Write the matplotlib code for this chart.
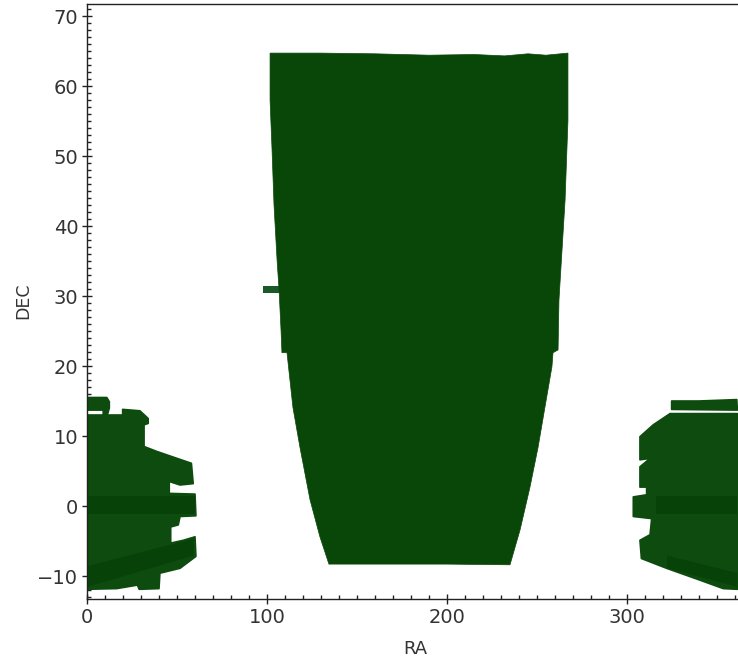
import matplotlib
matplotlib.use("Agg")
import matplotlib.pyplot as plt
from matplotlib.ticker import MultipleLocator

W, H = 738, 659
X_LABEL = "RA"
Y_LABEL = "DEC"
X_TICKS = [0, 100, 200, 300]
Y_TICKS = [-10, 0, 10, 20, 30, 40, 50, 60, 70]

# Footprint outlines (RA, DEC in degrees)
north_ra = [101.7, 130, 160, 190, 215, 232, 245, 255, 267.2, 267.2, 265.6, 262.2, 261.7, 258.9, 258.3,
            254.4, 250.6, 246.1, 240.6, 235.0, 200, 170, 134.4, 129.4, 123.9, 118.3, 114.4, 111.1,
            108.3, 107.8, 106.7, 105.6, 103.9, 102.8, 101.7]
north_dec = [64.7, 64.7, 64.6, 64.4, 64.5, 64.3, 64.6, 64.4, 64.7, 55.1, 43.7, 29.4, 22.3, 21.9, 19.9,
             14.1, 8.4, 2.7, -3.4, -8.4, -8.3, -8.3, -8.3, -4.4, 0.9, 8.4, 14.1, 21.9,
             21.9, 25.1, 30.9, 35.1, 43.0, 50.9, 58.0]

stub_ra = [97.8, 107.5, 107.5, 97.8]
stub_dec = [30.5, 30.5, 31.5, 31.5]

south_left_top_ra = [0, 11, 12.4, 12.4, 11.3, 9, 9, 0]
south_left_top_dec = [15.5, 15.5, 14.9, 14.0, 13.0, 13.0, 13.7, 13.7]

south_left_ra = [0, 19.8, 19.8, 29.4, 34, 34, 31.7, 31.7, 38.7, 58, 59, 51.7, 45.7, 45.7, 60, 60.5,
                 51.7, 50.7, 46.5, 46.5, 53.5, 60, 60.5, 51.7, 40.5, 40, 29, 28, 16.5, 0]
south_left_dec = [13.0, 13.0, 13.8, 13.6, 12.5, 11.8, 11.6, 8.5, 7.8, 6.1, 3.2, 3.0, 3.5, 1.8, 1.7, -1.4,
                  -1.5, -2.7, -3.0, -5.3, -4.9, -4.4, -7.2, -8.9, -9.6, -11.8, -11.9, -11.3, -11.8, -11.9]

south_right_top_ra = [324.8, 340, 361, 361.3, 324.8]
south_right_top_dec = [15.0, 15.0, 15.2, 13.7, 13.8]

south_right_ra = [323.9, 361.3, 361.3, 353.5, 340.6, 322, 308, 307.2, 312.8, 313.7, 303.5, 303.5, 310.9,
                  310.9, 307.2, 307.2, 312.8, 307.2, 307.2, 314.6]
south_right_dec = [13.2, 13.2, -11.9, -11.8, -10.6, -8.9, -7.5, -4.9, -4.1, -1.8, -1.5, 1.3, 1.6,
                   2.7, 2.7, 5.6, 6.8, 6.6, 9.9, 11.6]

# Slightly darker overlap strips inside the southern patches
overlap_ra = [[0, 60], [0, 59], [316, 361], [322, 361]]
overlap_low = [[-1.2, -1.2], [-11.5, -7.0], [-1.2, -1.2], [-8.8, -11.5]]
overlap_high = [[1.5, 1.5], [-8.5, -4.6], [1.4, 1.4], [-7.0, -9.5]]

GREEN = "#094709"
GREEN_SOUTH = "#0d4c0e"
DARK = "#074308"
STUB = "#1a5a28"
INK = "#333333"
LINE = "#222222"

fig = plt.figure(figsize=(W / 100, H / 100), dpi=100, facecolor="white")
L, R, T, B = 87, 738, 4, 599
ax = fig.add_axes([L / W, 1 - B / H, (R - L) / W, (B - T) / H])
ax.set_xlim(0, (R - L) / 1.8)
ax.set_ylim((506 - B) / 7.0, (506 - T) / 7.0)

ax.fill(north_ra, north_dec, color=GREEN, lw=0.5, zorder=2)
ax.fill(stub_ra, stub_dec, color=STUB, lw=0, zorder=1.5)
for xs, ys in [(south_left_top_ra, south_left_top_dec), (south_left_ra, south_left_dec),
               (south_right_top_ra, south_right_top_dec), (south_right_ra, south_right_dec)]:
    ax.fill(xs, ys, color=GREEN_SOUTH, lw=1.2, joinstyle="round", zorder=2)
for xs, lo, hi in zip(overlap_ra, overlap_low, overlap_high):
    ax.fill_between(xs, lo, hi, color=DARK, lw=0, zorder=2.1)

ax.set_xticks(X_TICKS)
ax.set_yticks(Y_TICKS)
ax.xaxis.set_minor_locator(MultipleLocator(10))
ax.yaxis.set_minor_locator(MultipleLocator(1))
ax.tick_params(which="major", direction="inout", length=6.5, width=1, color=LINE,
               labelsize=14, labelcolor=INK, pad=3)
ax.tick_params(which="minor", direction="in", length=3, width=1, color=LINE)
ax.spines["right"].set_visible(False)
for s in ["left", "top", "bottom"]:
    ax.spines[s].set_color(LINE)
    ax.spines[s].set_linewidth(1)

fig.text(415 / W, 1 - 649 / H, X_LABEL, fontsize=13, color=INK, ha="center", va="center")
fig.text(23 / W, 1 - 301 / H, Y_LABEL, fontsize=12.5, color=INK, rotation=90, ha="center", va="center")

fig.savefig("out.png", dpi=100)
